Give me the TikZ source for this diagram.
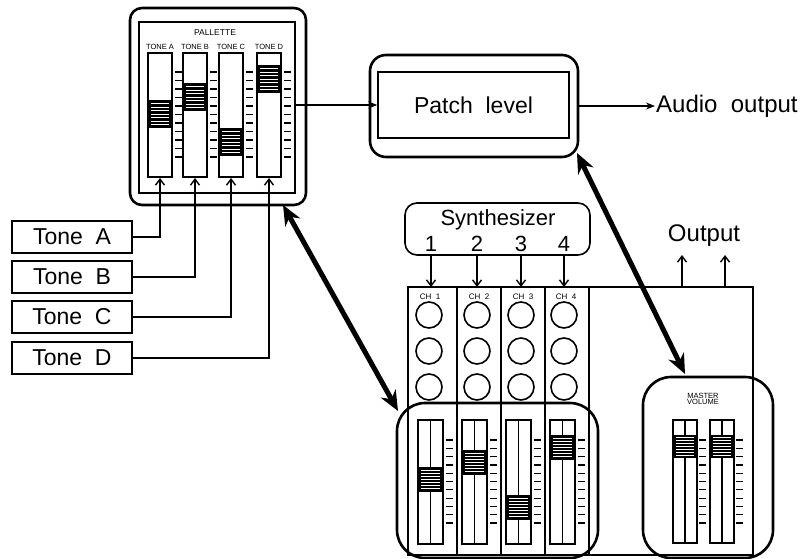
\documentclass[tikz,border=0pt]{standalone}
\usepackage{fontspec}
\setmainfont{Liberation Sans}
\usepackage{xcolor}
\usepackage{tikz}
\usetikzlibrary{arrows.meta,positioning}

\tikzset{
  ring/.style={draw, line width=2.6pt, rounded corners=#1, inner sep=0pt},
  frame/.style={draw, line width=1.5pt, inner sep=0pt},
  tonebox/.style={draw, line width=1.6pt, minimum width=120pt, minimum height=32pt, inner sep=0pt, font=\fontsize{23}{23}\selectfont},
  big/.style={inner sep=1pt, font=\fontsize{23}{23}\selectfont},
  tiny/.style={inner sep=0pt, font=\fontsize{7.5}{7.5}\selectfont},
  feed/.style={line width=1.2pt, -{Straight Barb[length=6pt,width=9pt,line width=1.4pt]}},
  flow/.style={line width=1.2pt, -{Stealth[length=9pt,width=7pt]}},
  link/.style={line width=5pt, {Stealth[length=20pt,width=17pt]}-{Stealth[length=20pt,width=17pt]}},
  track/.style={draw, line width=2.2pt},
  notch/.style={line width=1.2pt},
  hatch/.style={white, line width=0.9pt}
}

\newcommand{\slknob}[4]{%
  \fill (#1,#2) rectangle +(#3,#4);
  \foreach \h in {1,...,7} \draw[hatch] (#1+3,#2+\h*#4/8) -- +(#3-6,0);
}

\begin{document}
\begin{tikzpicture}[x=1pt, y=-1pt]
    \useasboundingbox (0,0) rectangle (808,559);

    \node[frame, minimum width=156pt, minimum height=171pt] (palette) at (217,107.5) {};
    \node[ring=12pt, minimum width=176pt, minimum height=197pt] (palring) at (218,106.5) {};
    \node[tiny, font=\fontsize{8.5}{8.5}\selectfont] (paltitle) at (215,33) {PALLETTE};
    \foreach \x/\k/\n in {148/100/A, 183/83/B, 219/128/C, 257/65/D} {
      \draw[track] (\x,53) rectangle +(24,124);
      \slknob{\x}{\k}{24}{28}
      \foreach \t in {0,...,10}
        \draw[notch] (\x+27,72+\t*8.5) -- +(7,0);
      \node[tiny] (lab\n) at (\x+12,47) {TONE \n};
      \coordinate (sl\n) at (\x+12,178);
    }

    \foreach \n/\y in {A/237, B/277, C/317, D/358}
      \node[tonebox] (tone\n) at (72,\y) {Tone\ \ \n};
    \foreach \n in {A,B,C,D}
      \draw[feed] (tone\n.east) -| (sl\n);

    \node[frame, big, minimum width=191pt, minimum height=66pt] (patch) at (473.5,105) {Patch\ \ level};
    \node[ring=16pt, minimum width=208pt, minimum height=102pt] (patchring) at (474,106) {};
    \node[big, anchor=west, font=\fontsize{24}{24}\selectfont] (audio) at (655,106) {Audio\ \ output};
    \draw[flow] (palette.east |- patch.west) -- (patch.west);
    \draw[flow] (patchring.east) -- (audio.west);

    \node[draw, line width=1.6pt, rounded corners=12pt, minimum width=185pt, minimum height=52pt] (synth) at (497.5,229) {};
    \node[big, font=\fontsize{22}{22}\selectfont] (synthname) at (498,220) {Synthesizer};
    \node[frame, line width=1.4pt, minimum width=345pt, minimum height=268pt] (mixer) at (580.5,421) {};
    \foreach \i/\x in {1/431, 2/477, 3/521, 4/564} {
      \node[big, font=\fontsize{22}{22}\selectfont] (num\i) at (\x,244) {\i};
      \coordinate (ch\i) at (\x,287);
      \draw[feed] (num\i.south |- synth.south) -- (ch\i);
    }
    \foreach \x in {457,501,545,589}
      \draw[line width=1.2pt] (\x,287) -- (\x,555);
    \foreach \i/\x in {1/430, 2/479, 3/523, 4/566}
      \node[tiny, font=\fontsize{8}{8}\selectfont] (chlab\i) at (\x,297) {CH\ \ \i};
    \foreach \x in {429,477,521,564}
      \foreach \y in {315,351,387}
        \draw[line width=1.6pt] (\x,\y) circle[radius=13pt];

    \foreach \x/\k in {418/467, 462/450, 506/495, 550/435} {
      \draw[track] (\x,420) rectangle +(25,124);
      \draw[line width=1.6pt] (\x+12.5,420) -- +(0,124);
      \slknob{\x}{\k}{25}{25}
      \foreach \t in {0,...,10}
        \draw[notch] (\x+28,440+\t*8.3) -- +(7,0);
    }
    \node[ring=28pt, minimum width=201pt, minimum height=155pt] (faderring) at (497.5,480.5) {};

    \node[ring=28pt, minimum width=130pt, minimum height=181pt] (masterring) at (708,467.5) {};
    \node[tiny, align=center, font=\fontsize{7.5}{6.5}\selectfont] (mastername) at (703,399) {MASTER\\VOLUME};
    \foreach \x in {673,710} {
      \draw[track] (\x,420) rectangle +(24,123);
      \draw[line width=1.6pt] (\x+12,420) -- +(0,123);
      \slknob{\x}{435}{24}{23}
      \foreach \t in {0,...,10}
        \draw[notch] (\x+26,440+\t*8.3) -- +(7,0);
    }

    \node[big, font=\fontsize{24}{24}\selectfont] (outname) at (704,236) {Output};
    \foreach \x [count=\i] in {682,725} {
      \coordinate (out\i) at (\x,255);
      \draw[feed] (mixer.north -| out\i) -- (out\i);
    }

    \coordinate (palcorner) at (283,205);
    \coordinate (fadercorner) at (398,411);
    \coordinate (patchcorner) at (577,153);
    \coordinate (mastertop) at (685,374);
    \draw[link] (palcorner) -- (fadercorner);
    \draw[link] (patchcorner) -- (mastertop);
\end{tikzpicture}
\end{document}
